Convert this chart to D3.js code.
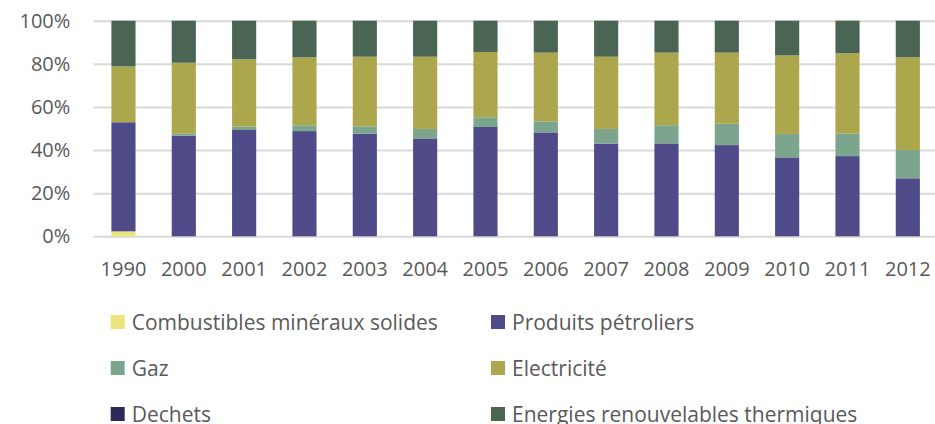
<!DOCTYPE html>
<html>
<head>
<meta charset="utf-8">
<script src="https://cdn.jsdelivr.net/npm/d3@7/dist/d3.min.js"></script>
<style>
  body { margin: 0; background: #fff; }
  svg text { font-family: "Open Sans", sans-serif; fill: #595959; }
</style>
</head>
<body>
<svg id="chart" width="935" height="424"></svg>
<script>
// Years on the x axis
var years = ["1990", "2000", "2001", "2002", "2003", "2004", "2005",
             "2006", "2007", "2008", "2009", "2010", "2011", "2012"];

// Shares (%), one array per series
var combustibles = [2.3, 0, 0, 0, 0, 0, 0, 0, 0, 0, 0, 0, 0, 0];
var produits     = [50.6, 46.7, 49.3, 48.8, 47.6, 45.4, 50.7, 48.2, 43.0, 43.1, 42.3, 36.6, 37.2, 26.9];
var gaz          = [0, 0.9, 1.6, 2.7, 3.4, 4.4, 4.5, 5.1, 6.8, 8.4, 9.9, 10.8, 10.4, 13.1];
var electricite  = [25.9, 32.9, 31.2, 31.5, 32.3, 33.5, 30.3, 31.9, 33.5, 33.7, 33.0, 36.5, 37.3, 43.0];
var dechets      = [0, 0, 0, 0, 0, 0, 0, 0, 0, 0, 0, 0, 0, 0];
var renouvelables = [21.2, 19.5, 17.9, 17.0, 16.7, 16.7, 14.5, 14.8, 16.7, 14.8, 14.8, 16.1, 15.1, 17.0];

var series_names = ["Combustibles minéraux solides", "Produits pétroliers", "Gaz",
                    "Electricité", "Dechets", "Energies renouvelables thermiques"];
var series_values = [combustibles, produits, gaz, electricite, dechets, renouvelables];
var series_colors = ["#ebe57e", "#4f4b89", "#7ba58c", "#aca64c", "#2b2a58", "#4a6554"];

var y_ticks = [0, 0.2, 0.4, 0.6, 0.8, 1];

// Build rows for d3.stack
var rows = years.map(function (yr, i) {
  var row = { year: yr };
  series_names.forEach(function (name, j) {
    row[name] = series_values[j][i];
  });
  return row;
});

var svg = d3.select("#chart");

var x = d3.scaleBand()
  .domain(years)
  .range([93.3, 938])
  .paddingInner(0.6)
  .paddingOuter(0.3);

var y = d3.scaleLinear()
  .domain([0, 1])
  .range([236.3, 20.7]);

// Grid lines + y labels
var y_axis = d3.axisLeft(y)
  .tickValues(y_ticks)
  .tickFormat(d3.format(".0%"))
  .tickSize(-(935 - 93.3))
  .tickPadding(23);

var gy = svg.append("g")
  .attr("transform", "translate(93.3,0)")
  .call(y_axis);

gy.select(".domain").remove();
gy.selectAll(".tick line").attr("stroke", "#d9d9d9").attr("stroke-width", 2);
gy.selectAll(".tick text").style("font-size", "20px").attr("fill", "#595959");

// Stacked bars
var stack = d3.stack()
  .keys(series_names)
  .offset(d3.stackOffsetExpand);

var layers = stack(rows);

svg.append("g")
  .selectAll("g")
  .data(layers)
  .join("g")
  .attr("fill", function (d, i) { return series_colors[i]; })
  .selectAll("rect")
  .data(function (d) { return d; })
  .join("rect")
  .attr("x", function (d) { return x(d.data.year); })
  .attr("width", x.bandwidth())
  .attr("y", function (d) { return y(d[1]); })
  .attr("height", function (d) { return y(d[0]) - y(d[1]); });

// X labels
var x_axis = d3.axisBottom(x).tickSize(0).tickPadding(0);
var gx = svg.append("g")
  .attr("transform", "translate(0,262)")
  .call(x_axis);
gx.select(".domain").remove();
gx.selectAll(".tick text")
  .style("font-size", "20px")
  .attr("fill", "#595959")
  .attr("dy", "0.71em");

// Legend, two columns, row-major
var legend_cols = [110.7, 491];
var legend_rows = [322, 368, 414];

var legend = svg.append("g")
  .selectAll("g")
  .data(series_names)
  .join("g")
  .attr("transform", function (d, i) {
    return "translate(" + legend_cols[i % 2] + "," + legend_rows[Math.floor(i / 2)] + ")";
  });

legend.append("rect")
  .attr("x", 0)
  .attr("y", -7)
  .attr("width", 14)
  .attr("height", 14)
  .attr("fill", function (d, i) { return series_colors[i]; });

legend.append("text")
  .attr("x", 21)
  .attr("y", 0)
  .attr("dy", "0.36em")
  .style("font-size", "21px")
  .text(function (d) { return d; });
</script>
</body>
</html>
